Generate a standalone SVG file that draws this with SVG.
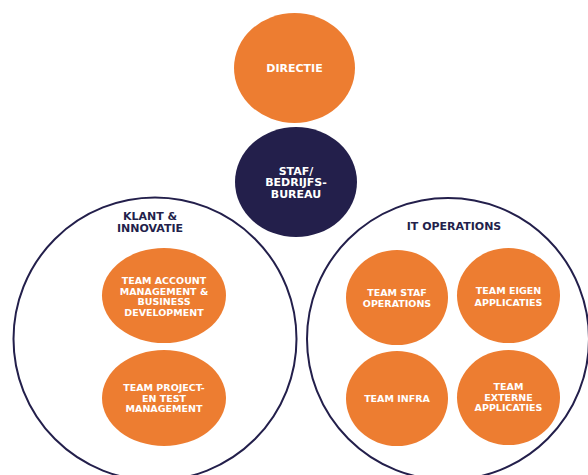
<svg xmlns="http://www.w3.org/2000/svg" width="588" height="475" viewBox="0 0 588 475">
<style>
.org{fill:#ED7D31}
.navy{fill:#231F4B}
.ring{fill:#ffffff;stroke:#231F4B;stroke-width:2}
text{font-family:"DejaVu Sans","Liberation Sans",sans-serif;font-weight:bold;font-size:9.5px;text-anchor:middle}
.w{fill:#ffffff}
.big{font-size:11px}
.d{fill:#231F4B;font-size:11px}
</style>
<rect width="588" height="475" fill="#ffffff"/>
<g id="klant-innovatie">
<circle class="ring" cx="155" cy="339" r="141.5"/>
<text class="d" x="150" y="220">KLANT &amp;</text>
<text class="d" x="150" y="232">INNOVATIE</text>
</g>
<g id="it-operations">
<circle class="ring" cx="448" cy="339" r="141"/>
<text class="d" x="454" y="230">IT OPERATIONS</text>
</g>
<g id="directie">
<ellipse class="org" cx="294.5" cy="68" rx="60.5" ry="55"/>
<text class="w big" x="294.5" y="72">DIRECTIE</text>
</g>
<g id="staf">
<ellipse class="navy" cx="296" cy="182" rx="61" ry="55"/>
<text class="w big" x="296" y="174.5">STAF/</text>
<text class="w big" x="296" y="186">BEDRIJFS-</text>
<text class="w big" x="296" y="197.5">BUREAU</text>
</g>
<g id="team-account">
<ellipse class="org" cx="164" cy="295.5" rx="62" ry="47.5"/>
<text class="w" x="164" y="283.5">TEAM ACCOUNT</text>
<text class="w" x="164" y="294.5">MANAGEMENT &amp;</text>
<text class="w" x="164" y="304.5">BUSINESS</text>
<text class="w" x="164" y="315.5">DEVELOPMENT</text>
</g>
<g id="team-project">
<ellipse class="org" cx="164" cy="398" rx="62" ry="48"/>
<text class="w" x="164" y="390.5">TEAM PROJECT-</text>
<text class="w" x="164" y="401.5">EN TEST</text>
<text class="w" x="164" y="411.5">MANAGEMENT</text>
</g>
<g id="team-staf-operations">
<ellipse class="org" cx="397" cy="297.5" rx="51" ry="47.5"/>
<text class="w" x="397" y="295.5">TEAM STAF</text>
<text class="w" x="397" y="306.5">OPERATIONS</text>
</g>
<g id="team-eigen-applicaties">
<ellipse class="org" cx="508.5" cy="295.5" rx="51.5" ry="47.5"/>
<text class="w" x="508.5" y="293.5">TEAM EIGEN</text>
<text class="w" x="508.5" y="305.5">APPLICATIES</text>
</g>
<g id="team-infra">
<ellipse class="org" cx="397" cy="398.5" rx="51" ry="47.5"/>
<text class="w" x="397" y="401.5">TEAM INFRA</text>
</g>
<g id="team-externe-applicaties">
<ellipse class="org" cx="508.5" cy="397.5" rx="51.5" ry="47.5"/>
<text class="w" x="508.5" y="389.5">TEAM</text>
<text class="w" x="508.5" y="400.5">EXTERNE</text>
<text class="w" x="508.5" y="410.5">APPLICATIES</text>
</g>
<g id="connectors"/>
</svg>
